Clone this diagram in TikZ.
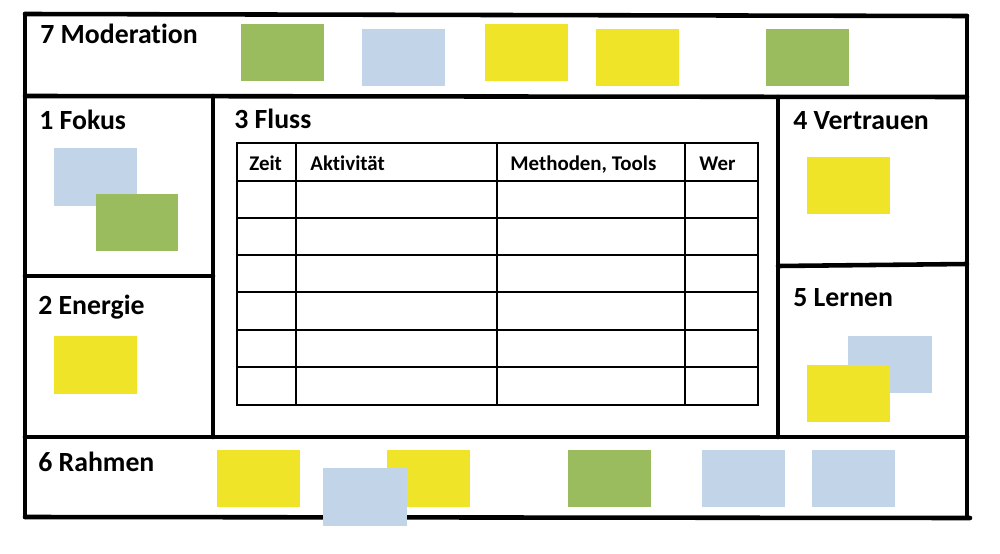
\documentclass[tikz,border=0pt]{standalone}
\usepackage{fontspec}
\setmainfont{Carlito}[Ligatures=NoCommon]
\definecolor{notegreen}{RGB}{155,187,95}
\definecolor{noteblue}{RGB}{193,212,232}
\definecolor{noteyellow}{RGB}{240,228,40}
\tikzset{
  frame/.style={line width=2.6pt, line cap=round},
  grid line/.style={line width=1.4pt},
  title/.style={anchor=base west, inner sep=0pt, font=\bfseries\fontsize{15.8}{18}\selectfont},
  head/.style={anchor=base west, inner sep=0pt, font=\bfseries\fontsize{11.9}{14}\selectfont},
}
\begin{document}
\begin{tikzpicture}[x=0.02cm, y=-0.02cm]
\useasboundingbox (0,0) rectangle (1000,554);
% outer frame and areas
\draw [frame] (25,14) -- (967,16);
\draw [frame] (25,14) -- (25,517);
\draw [frame] (967,16) -- (967,515);
\draw [frame] (25,517) -- (970,518);
\draw [frame] (25,96) -- (967,97);
\draw [frame] (25,437) -- (967,437);
\draw [frame] (213,96) -- (213,437);
\draw [frame] (778,97) -- (778,437);
\draw [frame] (25,276) -- (213,276);
\draw [frame] (778,266) -- (967,264);
% table
\draw [grid line] (237,143) rectangle (758,405);
\draw [grid line] (237,181) -- (758,181);
\draw [grid line] (237,218) -- (758,218);
\draw [grid line] (237,255) -- (758,255);
\draw [grid line] (237,292) -- (758,292);
\draw [grid line] (237,330) -- (758,330);
\draw [grid line] (237,367) -- (758,367);
\draw [grid line] (296,143) -- (296,405);
\draw [grid line] (497,143) -- (497,405);
\draw [grid line] (685,143) -- (685,405);
\node[head] (zeit) at (249,170) {Zeit};
\node[head] (aktiv) at (310,170) {Aktivität};
\node[head] (methoden) at (510,170) {Methoden, Tools};
\node[head] (wer) at (699,170) {Wer};
% titles
\node[title] (moderation) at (40,44) {7 Moderation};
\node[title] (fokus) at (39,130) {1 Fokus};
\node[title] (fluss) at (234,129) {3 Fluss};
\node[title] (vertrauen) at (793,130) {4 Vertrauen};
\node[title] (energie) at (38,314) {2 Energie};
\node[title] (lernen) at (793,306) {5 Lernen};
\node[title] (rahmen) at (38,471) {6 Rahmen};
% notes, 7 Moderation
\fill[notegreen] (241,24) rectangle (324,81);
\fill[noteblue] (362,29) rectangle (445,86);
\fill[noteyellow] (485,24) rectangle (568,81);
\fill[noteyellow] (596,29) rectangle (679,86);
\fill[notegreen] (766,29) rectangle (849,86);
% 1 Fokus
\fill[noteblue] (54,148) rectangle (137,206);
\fill[notegreen] (96,194) rectangle (178,251);
% 2 Energie
\fill[noteyellow] (54,336) rectangle (137,394);
% 4 Vertrauen
\fill[noteyellow] (807,157) rectangle (890,214);
% 5 Lernen
\fill[noteblue] (848,336) rectangle (932,393);
\fill[noteyellow] (807,365) rectangle (890,422);
% 6 Rahmen
\fill[noteyellow] (217,450) rectangle (300,507);
\fill[noteyellow] (387,450) rectangle (470,507);
\fill[noteblue] (323,468) rectangle (407,526);
\fill[notegreen] (568,450) rectangle (651,507);
\fill[noteblue] (702,450) rectangle (785,507);
\fill[noteblue] (812,450) rectangle (895,507);
\end{tikzpicture}
\end{document}
